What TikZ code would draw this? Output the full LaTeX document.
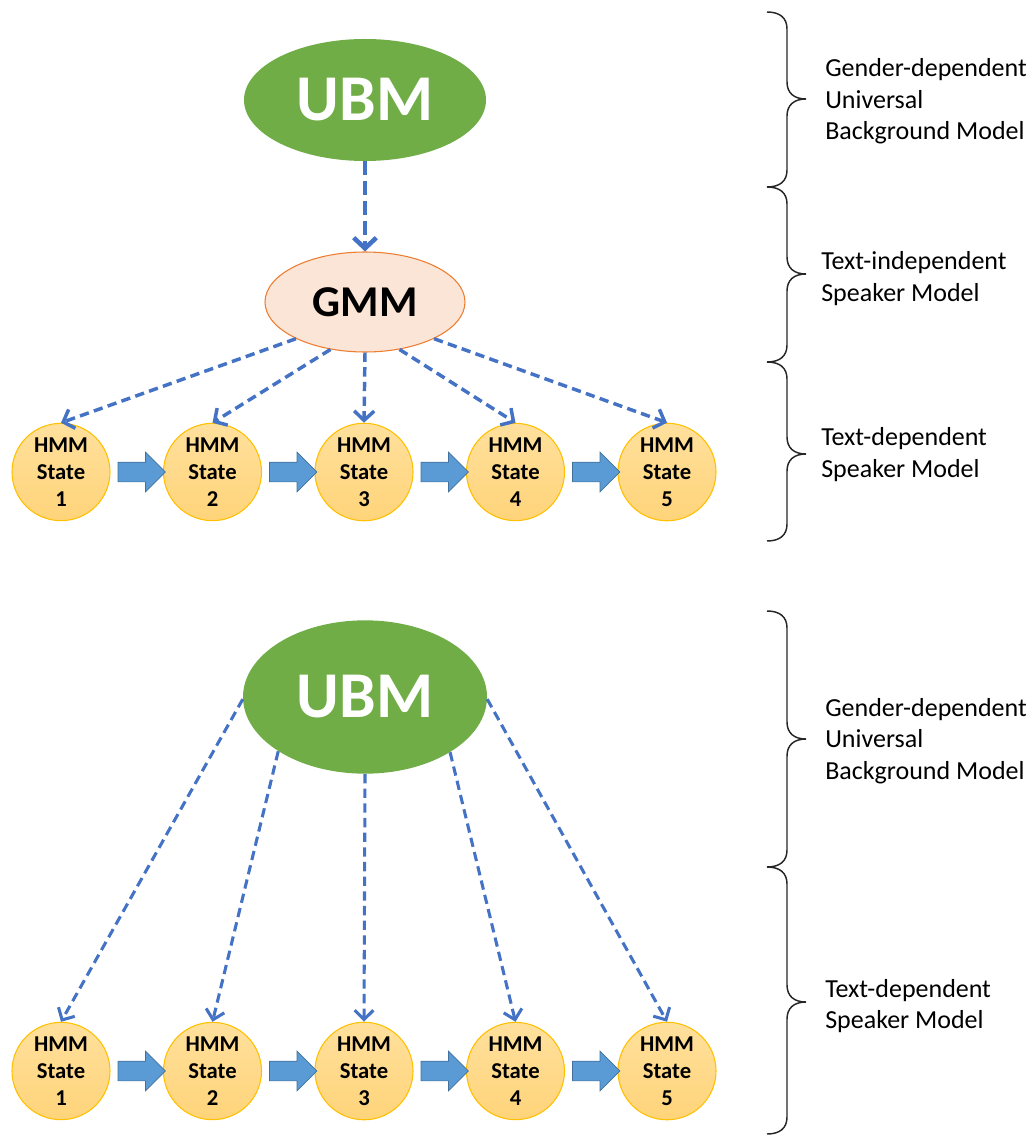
\documentclass[tikz,border=0pt]{standalone}
\usepackage{fontspec}
\setmainfont{Carlito}
\usetikzlibrary{shapes.geometric,shapes.arrows,arrows.meta,calc}
\definecolor{ubmgreen}{HTML}{70AD47}
\definecolor{gmmfill}{HTML}{FBE5D6}
\definecolor{gmmdraw}{HTML}{ED7D31}
\definecolor{linkblue}{HTML}{4472C4}
\definecolor{hmmtop}{HTML}{FFE09C}
\definecolor{hmmbot}{HTML}{FFD47A}
\definecolor{hmmdraw}{HTML}{FFC000}
\definecolor{blockfill}{HTML}{5B9BD5}
\definecolor{blockdraw}{HTML}{41719C}
\newcommand\mybrace[3]{%
  \draw[bracestyle] (767,#1) .. controls (780,#1) and (787,#1+6) .. (787,#1+17)
    -- (787,#2-17) .. controls (787,#2-6) and (794,#2) .. (806,#2)
    .. controls (794,#2) and (787,#2+6) .. (787,#2+17)
    -- (787,#3-17) .. controls (787,#3-6) and (780,#3) .. (767,#3);}
\begin{document}
\begin{tikzpicture}[x=0.75pt,y=-0.75pt,
  ubm/.style={ellipse, fill=ubmgreen, draw=none, text=white, inner sep=0pt,
    font=\fontsize{49}{52}\selectfont\bfseries},
  gmm/.style={ellipse, fill=gmmfill, draw=gmmdraw, line width=0.8pt, inner sep=0pt,
    minimum width=150pt, minimum height=75pt, font=\fontsize{33}{36}\selectfont\bfseries},
  hmm/.style={ellipse, top color=hmmtop, bottom color=hmmbot, draw=hmmdraw, line width=0.8pt,
    inner sep=0pt, minimum width=73.5pt, minimum height=67.5pt, align=center,
    font=\fontsize{17}{20.3}\selectfont\bfseries},
  blockarrow/.style={single arrow, fill=blockfill, draw=blockdraw, line width=0.5pt,
    minimum height=35.5pt, single arrow head extend=7.5pt,
    single arrow head indent=0pt, inner sep=0pt},
  link/.style={draw=linkblue, line width=2.6pt, dash pattern=on 7pt off 4pt,
    -{Straight Barb[length=7pt,width=15pt]}},
  biglink/.style={draw=linkblue, line width=3.4pt, dash pattern=on 10pt off 5pt,
    -{Straight Barb[length=8pt,width=17pt]}},
  thinlink/.style={draw=linkblue, line width=2.3pt, dash pattern=on 7pt off 4pt,
    -{Straight Barb[length=7pt,width=14pt]}},
  lbl/.style={anchor=west, align=left, inner sep=0pt,
    font=\fontsize{19.5}{23.6}\selectfont},
  bracestyle/.style={draw=black!85, line width=1.1pt}
]
\useasboundingbox (0,0) rectangle (1035,1137);

% ---------- top diagram ----------
\node[ubm, minimum width=181.5pt, minimum height=91.5pt] (ubmA) at (365,100) {UBM};
\node[gmm] (gmm) at (365,302) {GMM};
\foreach \i/\x in {1/61,2/212.5,3/364,4/515.5,5/667}{
  \node[hmm] (a\i) at (\x,472) {HMM\\State\\\i};
}
\foreach \i/\j in {1/2,2/3,3/4,4/5}{
  \node[blockarrow] (ba\i) at ($(a\i)!0.5!(a\j)$) {\rule{0pt}{14.25pt}};
}
\draw[biglink] (ubmA.south) -- (gmm.north);
\draw[link] (gmm.208) -- (a1.north);
\draw[link] (gmm.234) -- (a2.north);
\draw[link] (gmm.south) -- (a3.north);
\draw[link] (gmm.306) -- (a4.north);
\draw[link] (gmm.332) -- (a5.north);

\mybrace{12}{99}{187}
\mybrace{187}{274}{362}
\mybrace{362}{454}{541}
\node[lbl] (tA1) at (825,101.5) {Gender-dependent\\Universal\\Background Model};
\node[lbl] (tA2) at (821,278.5) {Text-independent\\Speaker Model};
\node[lbl] (tA3) at (821,454.5) {Text-dependent\\Speaker Model};

% ---------- bottom diagram ----------
\node[ubm, minimum width=183pt, minimum height=115pt] (ubmB) at (365,697) {UBM};
\foreach \i/\x in {1/61,2/212.5,3/364,4/515.5,5/667}{
  \node[hmm] (b\i) at (\x,1071) {HMM\\State\\\i};
}
\foreach \i/\j in {1/2,2/3,3/4,4/5}{
  \node[blockarrow] (bb\i) at ($(b\i)!0.5!(b\j)$) {\rule{0pt}{14.25pt}};
}
\draw[thinlink] (ubmB.181) -- (b1.north);
\draw[thinlink] (ubmB.212) -- (b2.north);
\draw[thinlink] (ubmB.south) -- (b3.north);
\draw[thinlink] (ubmB.327) -- (b4.north);
\draw[thinlink] (ubmB.359) -- (b5.north);

\mybrace{611}{739}{867}
\mybrace{867}{1002}{1134}
\node[lbl] (tB1) at (825,741) {Gender-dependent\\Universal\\Background Model};
\node[lbl] (tB2) at (825,1006) {Text-dependent\\Speaker Model};
\end{tikzpicture}
\end{document}
